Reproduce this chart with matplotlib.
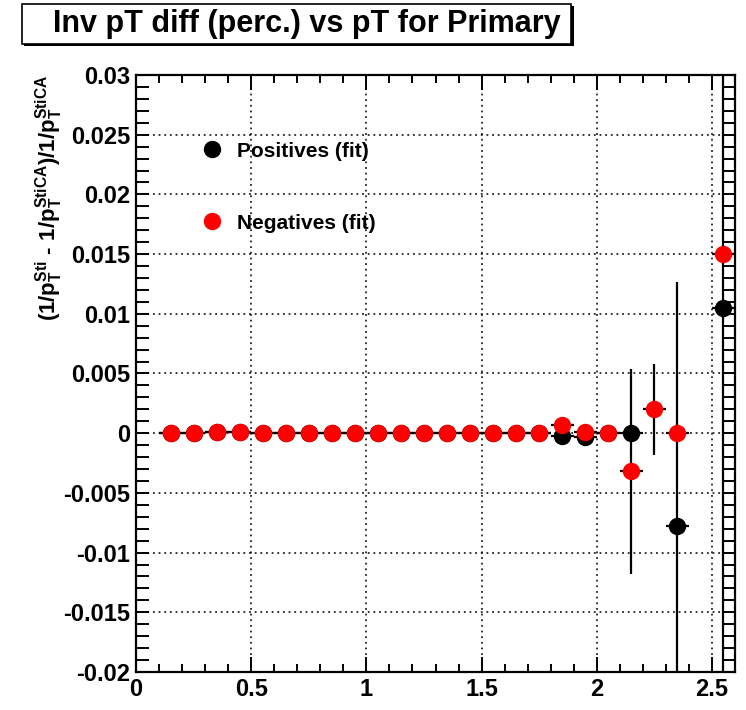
import numpy as np
import matplotlib
matplotlib.use("Agg")
import matplotlib.pyplot as plt
from matplotlib.lines import Line2D
from matplotlib.patches import Rectangle
from matplotlib.ticker import MultipleLocator

# ---- data ----
x_centers = [0.15, 0.25, 0.35, 0.45, 0.55, 0.65, 0.75, 0.85, 0.95, 1.05, 1.15, 1.25,
             1.35, 1.45, 1.55, 1.65, 1.75, 1.85, 1.95, 2.05, 2.15, 2.25, 2.35, 2.55]
x_half_width = 0.05

pos_y = [0, 0, 0.0001, 0.0001, 0, 0, 0, 0, 0, 0, 0, 0,
         0, 0, 0, 0, 0, -0.0002, -0.0003, 0, 0, np.nan, -0.0078, 0.0105]
pos_err = [0.0001] * 20 + [0.0003, np.nan, 0.0205, 0.05]

neg_y = [0, 0, 0.0001, 0.0001, 0, 0, 0, 0, 0, 0, 0, 0,
         0, 0, 0, 0, 0, 0.0007, 0.0001, 0, -0.0032, 0.0020, 0, 0.0150]
neg_err = [0.0001] * 20 + [0.0086, 0.0038, 0.0, 0.0]

title = "Inv pT diff (perc.) vs pT for Primary"
ylabel = r"$\mathbf{(1/p_T^{Sti}\ \text{-}\ 1/p_T^{StiCA})/1/p_T^{StiCA}}$"
legend_labels = ["Positives (fit)", "Negatives (fit)"]
x_range = (0, 2.6)
y_range = (-0.02, 0.03)

# ---- style ----
plt.rcParams['font.family'] = ['Liberation Sans', 'DejaVu Sans']
plt.rcParams['font.weight'] = 'bold'
plt.rcParams['mathtext.fontset'] = 'custom'
plt.rcParams['mathtext.bf'] = 'Liberation Sans:bold'
plt.rcParams['mathtext.rm'] = 'Liberation Sans:bold'
plt.rcParams['mathtext.it'] = 'Liberation Sans:bold'

W, H = 746, 710
fig = plt.figure(figsize=(W / 100, H / 100), dpi=100)
ax = fig.add_axes([136 / W, 1 - 672 / H, (735 - 136) / W, (672 - 75) / H])

xe = [x_half_width] * len(x_centers)
ax.errorbar(x_centers, pos_y, yerr=pos_err, xerr=xe, fmt='o', color='black',
            ecolor='black', elinewidth=1.6, markersize=11.5, capsize=0, zorder=3)
ax.errorbar(x_centers, neg_y, yerr=neg_err, xerr=xe, fmt='o', color='red',
            ecolor='black', elinewidth=1.6, markersize=11.5, capsize=0, zorder=4,
            markeredgecolor='red')

ax.set_xlim(*x_range)
ax.set_ylim(*y_range)
ax.xaxis.set_major_locator(MultipleLocator(0.5))
ax.xaxis.set_minor_locator(MultipleLocator(0.1))
ax.yaxis.set_major_locator(MultipleLocator(0.005))
ax.yaxis.set_minor_locator(MultipleLocator(0.001))

def yfmt(v, p):
    if abs(v) < 1e-12:
        return "0"
    return ("%.3f" % v).rstrip('0')
def xfmt(v, p):
    if abs(v) < 1e-12:
        return "0"
    return ("%g" % v)
ax.yaxis.set_major_formatter(plt.FuncFormatter(yfmt))
ax.xaxis.set_major_formatter(plt.FuncFormatter(xfmt))

ax.tick_params(which='both', direction='in', top=True, right=True, width=1.4)
ax.tick_params(which='major', length=11)
ax.tick_params(which='minor', length=6)
ax.tick_params(axis='y', which='both', length=9)
ax.tick_params(axis='both', which='major', labelsize=17, pad=4)
for lab in ax.get_xticklabels() + ax.get_yticklabels():
    lab.set_fontweight('bold')
for s in ax.spines.values():
    s.set_linewidth(1.6)

ax.grid(True, which='major', linestyle=(0, (1.2, 2.5)), color='black', linewidth=1.1)
ax.set_axisbelow(True)

ax.set_ylabel(ylabel, fontsize=16, loc='top')
ax.yaxis.set_label_coords(-0.118, 1.0)

handles = [Line2D([], [], marker='o', linestyle='none', color='black', markersize=11.5),
           Line2D([], [], marker='o', linestyle='none', color='red', markersize=11.5)]
fig.legend(handles, legend_labels, loc='upper left',
           bbox_to_anchor=(185 / W, 1 - 127 / H), frameon=False,
           prop={'weight': 'bold', 'size': 15}, labelspacing=2.55,
           handlelength=1.2, handletextpad=0.6, borderpad=0.2)

# title box with shadow
fig.patches.append(Rectangle((24 / W, 1 - 46 / H), (572 - 22) / W, (44 - 4) / H,
                             transform=fig.transFigure, facecolor='black',
                             edgecolor='none', zorder=1))
fig.patches.append(Rectangle((22 / W, 1 - 44 / H), (571 - 22) / W, (44 - 4) / H,
                             transform=fig.transFigure, facecolor='white',
                             edgecolor='black', linewidth=1.2, zorder=2))
fig.text(307 / W, 1 - 24 / H, title, ha='center', va='center', fontsize=22,
         fontweight='bold', zorder=3)

fig.savefig("out.png", dpi=100)
